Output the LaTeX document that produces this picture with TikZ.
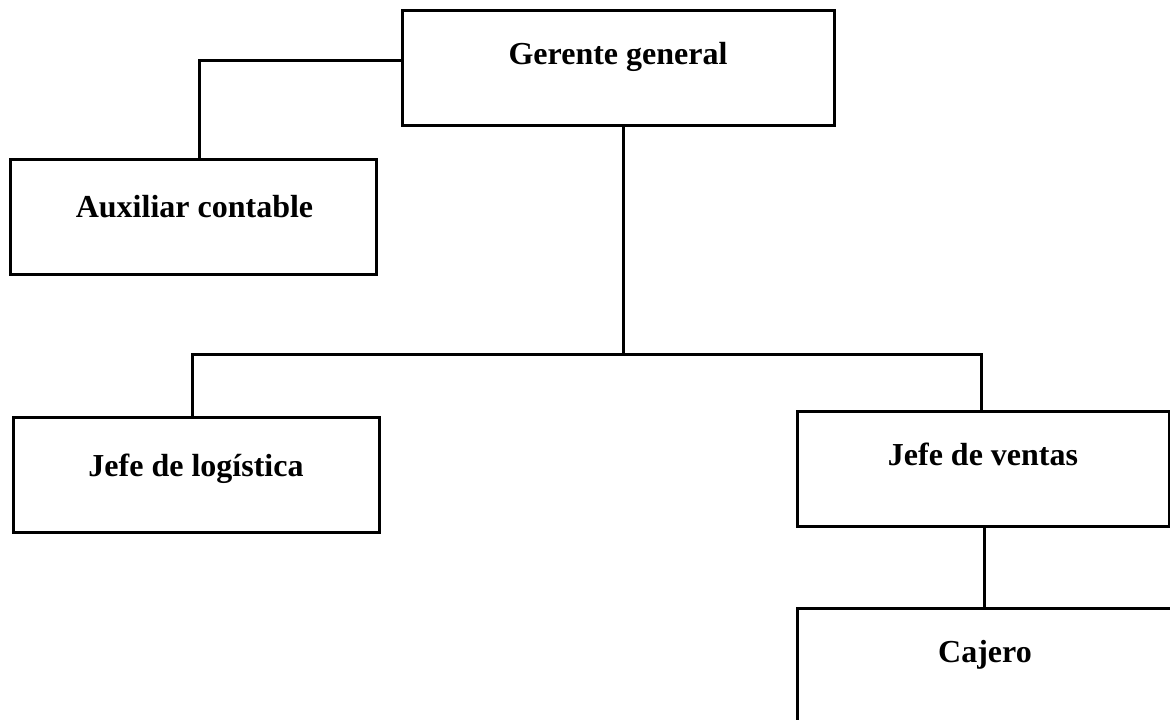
\documentclass[tikz,border=0pt]{standalone}
\usepackage{fontspec}
\setmainfont{Liberation Serif}
\begin{document}
\begin{tikzpicture}[x=1pt,y=-1pt,
  box/.style={draw=black,line width=3pt,rectangle,inner sep=0pt,minimum height=115pt},
  lbl/.style={font=\fontsize{32}{37}\selectfont\bfseries,inner sep=0pt,anchor=base},
  conn/.style={draw=black,line width=3pt}]
\useasboundingbox (0,0) rectangle (1170,720);
\clip (0,0) rectangle (1170,720);
\node[box,minimum width=432pt] (g) at (618,67.5) {};
\node[lbl] (gt) at (618,64) {Gerente general};
\node[box,minimum width=366pt] (a) at (193,216.5) {};
\node[lbl] (at) at (194.5,217) {Auxiliar contable};
\node[box,minimum width=366pt] (l) at (196,474.5) {};
\node[lbl] (lt) at (196,476) {Jefe de logística};
\node[box,minimum width=372pt] (v) at (983,468.5) {};
\node[lbl] (vt) at (983,465) {Jefe de ventas};
\node[box,minimum width=380pt,minimum height=130pt] (c) at (987,673) {};
\node[lbl] (ct) at (985,662) {Cajero};
\coordinate (k1) at (199,60);
\coordinate (j) at (623,354);
\coordinate (jl) at (192,354);
\coordinate (jr) at (981,354);
\draw[conn] (g.west |- k1) -- (k1) -- (k1 |- a.north);
\draw[conn] (g.south -| j) -- (j);
\draw[conn] (jl |- l.north) -- (jl) -- (jr) -- (jr |- v.north);
\draw[conn] (v.south -| 984,0) -- (c.north -| 984,0);
\end{tikzpicture}
\end{document}
